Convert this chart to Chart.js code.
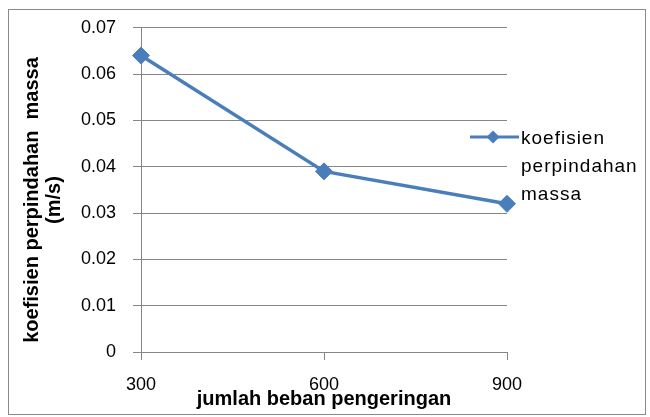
<!DOCTYPE html>
<html>
<head>
<meta charset="utf-8">
<script src="https://cdn.jsdelivr.net/npm/chart.js@4/dist/chart.umd.min.js"></script>
<style>
  html, body { margin: 0; padding: 0; background: #ffffff; }
  canvas { display: block; }
</style>
</head>
<body>
<canvas id="chart" width="650" height="417"></canvas>
<script>
// Drying load (x) vs. mass transfer coefficient (y)
const categories = ['300', '600', '900'];
const seriesValues = [0.064, 0.039, 0.032];
const seriesName = 'koefisien perpindahan massa';
const legendLines = ['koefisien', 'perpindahan', 'massa'];
const yAxisTitle = ['koefisien perpindahan  massa', '(m/s)'];
const xAxisTitle = 'jumlah beban pengeringan';
const yMin = 0, yMax = 0.07, yStep = 0.01;

const BLUE = '#4A7EBB';
const GRID = '#868686';
const FONT = '"Liberation Sans", Arial, sans-serif';

// White background and the outer frame
const frame = {
  id: 'frame',
  beforeDraw(chart) {
    const ctx = chart.ctx;
    ctx.save();
    ctx.fillStyle = '#ffffff';
    ctx.fillRect(0, 0, chart.width, chart.height);
    ctx.strokeStyle = '#8a8a8a';
    ctx.lineWidth = 1;
    ctx.strokeRect(8.5, 9.5, 637, 405);
    ctx.restore();
  }
};

// Axis titles and the right-hand legend
const annotations = {
  id: 'annotations',
  afterDraw(chart) {
    const ctx = chart.ctx;
    const area = chart.chartArea;
    ctx.save();
    ctx.fillStyle = '#000000';
    ctx.font = 'bold 20px ' + FONT;
    ctx.textAlign = 'center';
    ctx.textBaseline = 'alphabetic';

    // x title
    ctx.fillText(xAxisTitle, (area.left + area.right) / 2, 405);

    // y title (two rotated lines)
    const baselines = [38, 60];
    yAxisTitle.forEach((t, i) => {
      ctx.save();
      ctx.translate(baselines[i], 200);
      ctx.rotate(-Math.PI / 2);
      ctx.fillText(t, 0, 0);
      ctx.restore();
    });

    // legend
    const ds = chart.data.datasets[0];
    const ly = 137;
    ctx.strokeStyle = ds.borderColor;
    ctx.lineWidth = 3;
    ctx.beginPath();
    ctx.moveTo(470, ly);
    ctx.lineTo(519, ly);
    ctx.stroke();
    const r = 6.5, cx = 493;
    ctx.fillStyle = ds.pointBackgroundColor;
    ctx.beginPath();
    ctx.moveTo(cx - r, ly);
    ctx.lineTo(cx, ly - r);
    ctx.lineTo(cx + r, ly);
    ctx.lineTo(cx, ly + r);
    ctx.closePath();
    ctx.fill();

    ctx.fillStyle = '#000000';
    ctx.font = '19px ' + FONT;
    ctx.textAlign = 'left';
    if ('letterSpacing' in ctx) ctx.letterSpacing = '1px';
    legendLines.forEach((t, i) => ctx.fillText(t, 521, 144 + i * 28));
    ctx.restore();
  }
};

new Chart(document.getElementById('chart'), {
  type: 'line',
  data: {
    labels: categories,
    datasets: [{
      label: seriesName,
      data: seriesValues,
      borderColor: BLUE,
      backgroundColor: BLUE,
      borderWidth: 3.5,
      pointStyle: 'rectRot',
      pointRadius: 8.5,
      pointBackgroundColor: BLUE,
      pointBorderColor: BLUE,
      pointBorderWidth: 1,
      tension: 0,
      fill: false
    }]
  },
  options: {
    responsive: false,
    animation: false,
    devicePixelRatio: 1,
    layout: { padding: { left: 0, top: 26, right: 143, bottom: 0 } },
    plugins: {
      legend: { display: false },
      tooltip: { enabled: false }
    },
    scales: {
      x: {
        type: 'category',
        offset: false,
        grid: { drawOnChartArea: false, drawTicks: true, tickLength: 8, color: GRID, lineWidth: 1 },
        border: { display: true, color: GRID, width: 1 },
        ticks: { color: '#000000', font: { family: FONT, size: 18 }, padding: 14, maxRotation: 0 },
        afterFit(scale) { scale.height = 65; }
      },
      y: {
        min: yMin,
        max: yMax,
        grid: { color: GRID, lineWidth: 1, drawTicks: true, tickLength: 8 },
        border: { display: true, color: GRID, width: 1 },
        ticks: {
          stepSize: yStep,
          color: '#000000',
          padding: 17,
          font: { family: FONT, size: 18 },
          callback: v => (Math.abs(v) < 1e-9 ? '0' : v.toFixed(2))
        },
        afterFit(scale) { scale.width = 141; }
      }
    }
  },
  plugins: [frame, annotations]
});
</script>
</body>
</html>
